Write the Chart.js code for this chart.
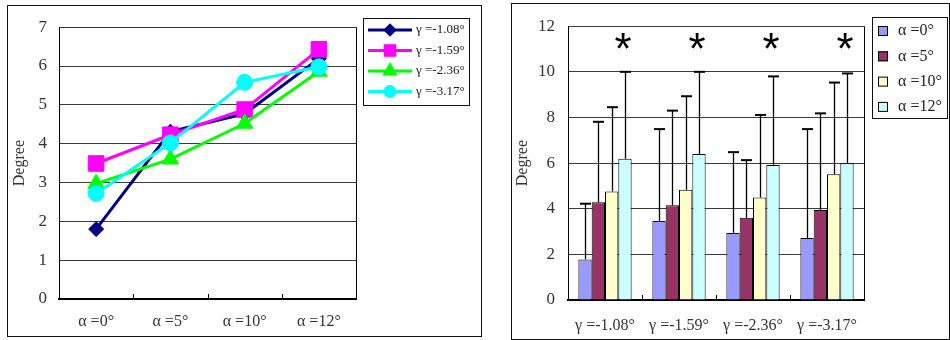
<!DOCTYPE html>
<html>
<head>
<meta charset="utf-8">
<script src="https://cdn.jsdelivr.net/npm/chart.js@4.4.0/dist/chart.umd.min.js"></script>
<style>
  html, body { margin: 0; padding: 0; background: #fff; }
  body { width: 950px; height: 340px; position: relative; overflow: hidden; }
  canvas { position: absolute; }
  #graficoLinea { left: 7px; top: 5px; }
  #graficoBarras { left: 511px; top: 3px; }
</style>
</head>
<body>
<canvas id="graficoLinea" width="475" height="332"></canvas>
<canvas id="graficoBarras" width="439" height="337"></canvas>
<script>
// categorias
const categoriasAlfa = ['α =0°', 'α =5°', 'α =10°', 'α =12°'];
const categoriasGamma = ['γ =-1.08°', 'γ =-1.59°', 'γ =-2.36°', 'γ =-3.17°'];

// grafico de lineas: una serie por gamma
const linea108 = [1.8, 4.31, 4.77, 6.19];
const linea159 = [3.49, 4.23, 4.88, 6.43];
const linea236 = [2.97, 3.6, 4.52, 5.86];
const linea317 = [2.72, 4.02, 5.58, 5.98];
const ticksLinea = [0, 1, 2, 3, 4, 5, 6, 7];

// grafico de barras: una serie por alfa (media y desviacion)
const barras0 = [1.78, 3.46, 2.94, 2.72];
const barras5 = [4.28, 4.15, 3.6, 3.94];
const barras10 = [4.76, 4.83, 4.49, 5.51];
const barras12 = [6.19, 6.4, 5.92, 5.99];
const desv0 = [2.44, 4.03, 3.54, 4.77];
const desv5 = [3.53, 4.15, 2.53, 4.24];
const desv10 = [3.69, 4.1, 3.62, 4.02];
const desv12 = [3.81, 3.6, 3.88, 3.94];
const ticksBarras = [0, 2, 4, 6, 8, 10, 12];
const asteriscos = [true, true, true, true];
const nivelAsterisco = 11.35;

const fuente = "'Liberation Serif', 'Times New Roman', serif";
const colorTexto = '#333';

// marco exterior, borde derecho del area y marcas entre categorias
const marco = {
  id: 'marco',
  afterDraw(chart) {
    const { ctx, chartArea: a, scales: { x } } = chart;
    ctx.save();
    ctx.strokeStyle = '#111';
    ctx.lineWidth = 1;
    ctx.strokeRect(0.5, 0.5, chart.width - 1, chart.height - 1);
    ctx.strokeStyle = '#000';
    ctx.beginPath();
    ctx.moveTo(Math.round(a.right) + 0.5, a.top);
    ctx.lineTo(Math.round(a.right) + 0.5, a.bottom);
    for (let i = 1; i < x.ticks.length; i++) {
      const xb = Math.round((x.getPixelForValue(i - 1) + x.getPixelForValue(i)) / 2) + 0.5;
      ctx.moveTo(xb, a.bottom);
      ctx.lineTo(xb, a.bottom - 5);
    }
    ctx.stroke();
    ctx.restore();
  }
};

// leyenda con recuadro
const leyenda = {
  id: 'leyenda',
  afterDraw(chart, args, op) {
    const ctx = chart.ctx;
    ctx.save();
    ctx.fillStyle = '#fff';
    ctx.fillRect(op.x, op.y, op.w, op.h);
    ctx.strokeStyle = '#111';
    ctx.lineWidth = 1;
    ctx.strokeRect(op.x + 0.5, op.y + 0.5, op.w, op.h);
    ctx.font = op.fuente;
    ctx.textBaseline = 'middle';
    ctx.textAlign = 'left';
    chart.data.datasets.forEach((ds, i) => {
      const y = op.y + op.primera + i * op.paso;
      if (op.tipo === 'linea') {
        ctx.strokeStyle = ds.borderColor;
        ctx.lineWidth = 3;
        ctx.beginPath();
        ctx.moveTo(op.x + op.lx1, y);
        ctx.lineTo(op.x + op.lx2, y);
        ctx.stroke();
        ctx.fillStyle = ds.borderColor;
        ctx.strokeStyle = ds.borderColor;
        Chart.helpers.drawPoint(ctx, {
          pointStyle: ds.pointStyle, rotation: 0,
          radius: ds.pointRadius * 0.62, borderWidth: 1
        }, op.x + (op.lx1 + op.lx2) / 2, y);
      } else {
        ctx.fillStyle = ds.backgroundColor;
        ctx.fillRect(op.x + op.lx1, y - 5, 10, 10);
        ctx.strokeStyle = '#000';
        ctx.strokeRect(op.x + op.lx1 + 0.5, y - 4.5, 9, 9);
      }
      ctx.fillStyle = '#222';
      ctx.fillText(ds.label, op.x + op.tx, y);
    });
    ctx.restore();
  }
};

// barras de error (solo hacia arriba) y asteriscos
const errores = {
  id: 'errores',
  afterDatasetsDraw(chart) {
    const { ctx, scales: { y } } = chart;
    ctx.save();
    ctx.strokeStyle = '#000';
    chart.data.datasets.forEach((ds, i) => {
      const meta = chart.getDatasetMeta(i);
      meta.data.forEach((bar, j) => {
        const tope = y.getPixelForValue(ds.data[j] + ds.desviacion[j]);
        const xc = Math.round(bar.x) + 0.5;
        ctx.lineWidth = 1.3;
        ctx.beginPath();
        ctx.moveTo(xc, bar.y);
        ctx.lineTo(xc, tope);
        ctx.stroke();
        ctx.lineWidth = 2;
        ctx.beginPath();
        ctx.moveTo(xc - 5.5, tope);
        ctx.lineTo(xc + 5.5, tope);
        ctx.stroke();
      });
    });
    const ultima = chart.getDatasetMeta(chart.data.datasets.length - 1);
    ctx.fillStyle = '#000';
    ctx.font = "44px 'Liberation Sans', Arial, sans-serif";
    ctx.textAlign = 'center';
    ctx.textBaseline = 'alphabetic';
    const m = ctx.measureText('*');
    const yc = y.getPixelForValue(nivelAsterisco);
    asteriscos.forEach((s, j) => {
      if (!s) return;
      ctx.fillText('*', ultima.data[j].x - 2, yc + (m.actualBoundingBoxAscent - m.actualBoundingBoxDescent) / 2);
    });
    ctx.restore();
  }
};

function ejeY(ticks, ancho, paddingTicks, paddingTitulo) {
  return {
    min: ticks[0],
    max: ticks[ticks.length - 1],
    afterBuildTicks: s => { s.ticks = ticks.map(v => ({ value: v })); },
    afterFit: s => { s.width = ancho; },
    grid: { color: '#3a3a3a', lineWidth: 1, drawTicks: false },
    border: { display: true, color: '#000', width: 1 },
    ticks: { color: colorTexto, padding: paddingTicks, font: { family: fuente, size: 17 } },
    title: {
      display: true, text: 'Degree', color: colorTexto,
      font: { family: fuente, size: 16 }, padding: { top: paddingTitulo, bottom: 0 }
    }
  };
}

function ejeX(alto, paddingTicks) {
  return {
    offset: true,
    afterFit: s => { s.height = alto; },
    grid: { display: false, drawTicks: false, offset: true },
    border: { display: true, color: '#000', width: 2 },
    ticks: { color: colorTexto, padding: paddingTicks, font: { family: fuente, size: 16 } }
  };
}

new Chart(document.getElementById('graficoLinea'), {
  type: 'line',
  data: {
    labels: categoriasAlfa,
    datasets: [
      { label: 'γ =-1.08°', data: linea108, borderColor: '#000080', backgroundColor: '#000080', pointStyle: 'rectRot', pointRadius: 7.5, order: 4 },
      { label: 'γ =-1.59°', data: linea159, borderColor: '#ff00ff', backgroundColor: '#ff00ff', pointStyle: 'rect', pointRadius: 11, order: 3 },
      { label: 'γ =-2.36°', data: linea236, borderColor: '#00ff00', backgroundColor: '#00ff00', pointStyle: 'triangle', pointRadius: 9.5, order: 2 },
      { label: 'γ =-3.17°', data: linea317, borderColor: '#00ffff', backgroundColor: '#00ffff', pointStyle: 'circle', pointRadius: 8, order: 1 }
    ].map(d => ({ ...d, borderWidth: 3, pointBorderWidth: 1, tension: 0 }))
  },
  options: {
    responsive: false,
    animation: false,
    layout: { padding: { left: 0, top: 14, right: 126, bottom: 0 } },
    scales: { x: ejeX(38, 13), y: ejeY(ticksLinea, 52, 12, 3) },
    plugins: {
      legend: { display: false },
      tooltip: { enabled: false },
      leyenda: {
        tipo: 'linea', x: 356, y: 13, w: 106, h: 87,
        primera: 12, paso: 20.5, lx1: 5, lx2: 49, tx: 53,
        fuente: "13px " + fuente
      }
    }
  },
  plugins: [marco, leyenda]
});

new Chart(document.getElementById('graficoBarras'), {
  type: 'bar',
  data: {
    labels: categoriasGamma,
    datasets: [
      { label: 'α =0°', data: barras0, desviacion: desv0, backgroundColor: '#9999ff' },
      { label: 'α =5°', data: barras5, desviacion: desv5, backgroundColor: '#993366' },
      { label: 'α =10°', data: barras10, desviacion: desv10, backgroundColor: '#ffffcc' },
      { label: 'α =12°', data: barras12, desviacion: desv12, backgroundColor: '#ccffff' }
    ].map(d => ({ ...d, borderColor: '#000', borderWidth: 1, categoryPercentage: 0.72, barPercentage: 1 }))
  },
  options: {
    responsive: false,
    animation: false,
    layout: { padding: { left: 0, top: 14, right: 86, bottom: 0 } },
    scales: { x: ejeX(40, 16), y: ejeY(ticksBarras, 57, 13, 2) },
    plugins: {
      legend: { display: false },
      tooltip: { enabled: false },
      leyenda: {
        tipo: 'barra', x: 361, y: 14, w: 75, h: 101,
        primera: 14, paso: 25.3, lx1: 6, tx: 26,
        fuente: "16px " + fuente
      }
    }
  },
  plugins: [errores, marco, leyenda]
});
</script>
</body>
</html>
